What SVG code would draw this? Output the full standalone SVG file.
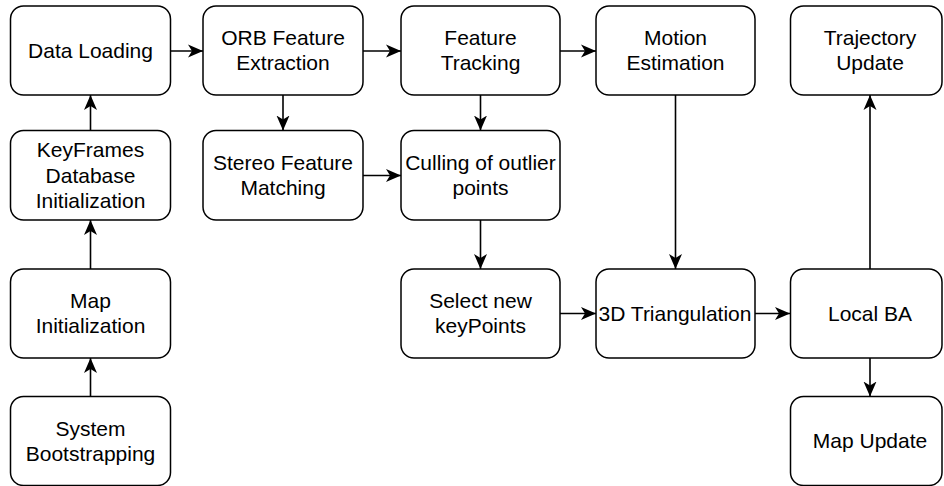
<svg xmlns="http://www.w3.org/2000/svg" width="944" height="486" viewBox="0 0 944 486">
<defs>
<marker id="arr" markerUnits="userSpaceOnUse" markerWidth="16" markerHeight="14" refX="15" refY="7" orient="auto">
<path d="M0,0.5 L15,7 L0,13.5 L4,7 Z" fill="#000"/>
</marker>
<style>
.box{fill:#fff;stroke:#000;stroke-width:1.5}
.lbl{font-family:"Liberation Sans",Arial,sans-serif;font-size:21px;fill:#000;text-anchor:middle}
.edge{fill:none;stroke:#000;stroke-width:1.6;marker-end:url(#arr)}
</style>
</defs>
<rect width="944" height="486" fill="#fff"/>
<g id="connectors">
<path class="edge" d="M170.5,51 H203"/>
<path class="edge" d="M283,95 V130.5"/>
<path class="edge" d="M363,51 H401"/>
<path class="edge" d="M560,51 H596"/>
<path class="edge" d="M480.5,95 V130.5"/>
<path class="edge" d="M363,175.5 H401"/>
<path class="edge" d="M480.5,220 V269"/>
<path class="edge" d="M675.5,95 V269"/>
<path class="edge" d="M560,313.5 H596"/>
<path class="edge" d="M755,313.5 H790"/>
<path class="edge" d="M870,269 V95"/>
<path class="edge" d="M870,358 V396.5"/>
<path class="edge" d="M90.5,130.5 V95"/>
<path class="edge" d="M90.5,269 V220"/>
<path class="edge" d="M90.5,396.5 V358"/>
</g>
<g id="data-loading">
<rect class="box" x="10.5" y="6" width="160" height="89" rx="13"/>
<text class="lbl" x="90.5" y="58">Data Loading</text>
</g>
<g id="keyframes-db">
<rect class="box" x="10.5" y="130.5" width="160" height="89.5" rx="13"/>
<text class="lbl" x="90.5" y="157.3">KeyFrames</text>
<text class="lbl" x="90.5" y="182.5">Database</text>
<text class="lbl" x="90.5" y="207.7">Initialization</text>
</g>
<g id="map-init">
<rect class="box" x="10.5" y="269" width="160" height="89" rx="13"/>
<text class="lbl" x="90.5" y="308">Map</text>
<text class="lbl" x="90.5" y="333.2">Initialization</text>
</g>
<g id="system-bootstrapping">
<rect class="box" x="10.5" y="396.5" width="160" height="89" rx="13"/>
<text class="lbl" x="90.5" y="435.5">System</text>
<text class="lbl" x="90.5" y="460.7">Bootstrapping</text>
</g>
<g id="orb-extraction">
<rect class="box" x="203" y="6" width="160" height="89" rx="13"/>
<text class="lbl" x="283" y="45">ORB Feature</text>
<text class="lbl" x="283" y="70.2">Extraction</text>
</g>
<g id="stereo-matching">
<rect class="box" x="203" y="130.5" width="160" height="89.5" rx="13"/>
<text class="lbl" x="283" y="170">Stereo Feature</text>
<text class="lbl" x="283" y="195.2">Matching</text>
</g>
<g id="feature-tracking">
<rect class="box" x="401" y="6" width="159" height="89" rx="13"/>
<text class="lbl" x="480.5" y="45">Feature</text>
<text class="lbl" x="480.5" y="70.2">Tracking</text>
</g>
<g id="culling">
<rect class="box" x="401" y="130.5" width="159" height="89.5" rx="13"/>
<text class="lbl" x="480.5" y="170">Culling of outlier</text>
<text class="lbl" x="480.5" y="195.2">points</text>
</g>
<g id="select-keypoints">
<rect class="box" x="401" y="269" width="159" height="89" rx="13"/>
<text class="lbl" x="480.5" y="308">Select new</text>
<text class="lbl" x="480.5" y="333.2">keyPoints</text>
</g>
<g id="motion-estimation">
<rect class="box" x="596" y="6" width="159" height="89" rx="13"/>
<text class="lbl" x="675.5" y="45">Motion</text>
<text class="lbl" x="675.5" y="70.2">Estimation</text>
</g>
<g id="triangulation">
<rect class="box" x="596" y="269" width="159" height="89" rx="13"/>
<text class="lbl" x="675" y="320.5">3D Triangulation</text>
</g>
<g id="trajectory-update">
<rect class="box" x="790.5" y="6" width="151.5" height="89" rx="13"/>
<text class="lbl" x="870" y="45">Trajectory</text>
<text class="lbl" x="870" y="70.2">Update</text>
</g>
<g id="local-ba">
<rect class="box" x="790.5" y="269" width="151.5" height="89" rx="13"/>
<text class="lbl" x="870" y="320.5">Local BA</text>
</g>
<g id="map-update">
<rect class="box" x="790.5" y="396.5" width="151.5" height="89" rx="13"/>
<text class="lbl" x="870" y="448">Map Update</text>
</g>
</svg>
